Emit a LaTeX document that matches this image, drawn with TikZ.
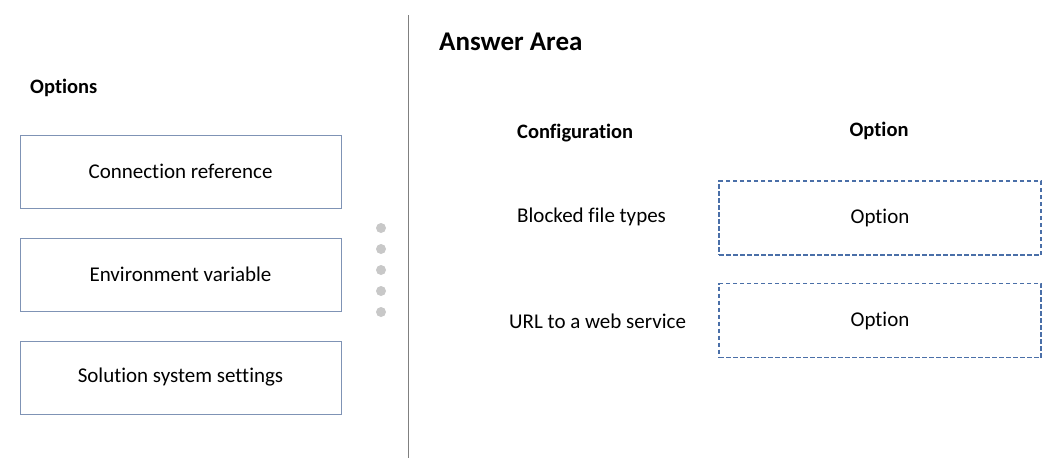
\documentclass[tikz,border=0pt]{standalone}
\usepackage{fontspec}
\setmainfont{Carlito}[Ligatures=CommonOff]
\usetikzlibrary{positioning}
\definecolor{boxline}{HTML}{7F93B5}
\definecolor{dashline}{HTML}{4A6FA8}
\definecolor{dotgray}{HTML}{C8C8C8}
\tikzset{optbox/.style = {draw = boxline, minimum width = 321, minimum height = 73, inner sep = 0, font = \fontsize{21}{24}\selectfont}}
\tikzset{ansbox/.style = {draw = dashline, dash pattern = on 4.5 off 2.5, line width = 1.4, minimum width = 322, minimum height = 74, inner sep = 0, font = \fontsize{21}{24}\selectfont}}
\tikzset{lbl/.style = {anchor = west, inner sep = 0, font = \fontsize{21}{24}\selectfont}}
\tikzset{hdr/.style = {inner sep = 0, font = \fontsize{20.5}{24}\selectfont\bfseries}}
\tikzset{dot/.style = {fill = dotgray, circle, inner sep = 0, minimum size = 10}}

\begin{document}
\begin{tikzpicture}[x = 1pt, y = -1pt]
        \useasboundingbox (0, 0) rectangle (1056, 474);
        \node at (30, 88) [hdr, anchor = west] (options) {Options};
        \node at (180.5, 171.5) [optbox] (connref) {Connection reference};
        \node at (180.5, 274.5) [optbox] (envvar) {Environment variable};
        \node at (180.5, 377.5) [optbox] (solset) {Solution system settings};
        \foreach \y in {228, 249, 270, 291, 312}
          \node at (381, \y) [dot] {};
        \draw [gray, line width = 1] (408, 15) -- (408, 458);
        \node at (439, 42) [hdr, anchor = west, font = \fontsize{27}{30}\selectfont\bfseries] (answer) {Answer Area};
        \node at (517, 133) [hdr, anchor = west] (config) {Configuration};
        \node at (879, 131) [hdr] (opthead) {Option};
        \node at (517, 217) [lbl] (blocked) {Blocked file types};
        \node at (509, 321) [lbl] (url) {URL to a web service};
        \node at (880, 218) [ansbox] (slotone) {Option};
        \node at (880, 320.5) [ansbox] (slottwo) {Option};
      \end{tikzpicture}
\end{document}
